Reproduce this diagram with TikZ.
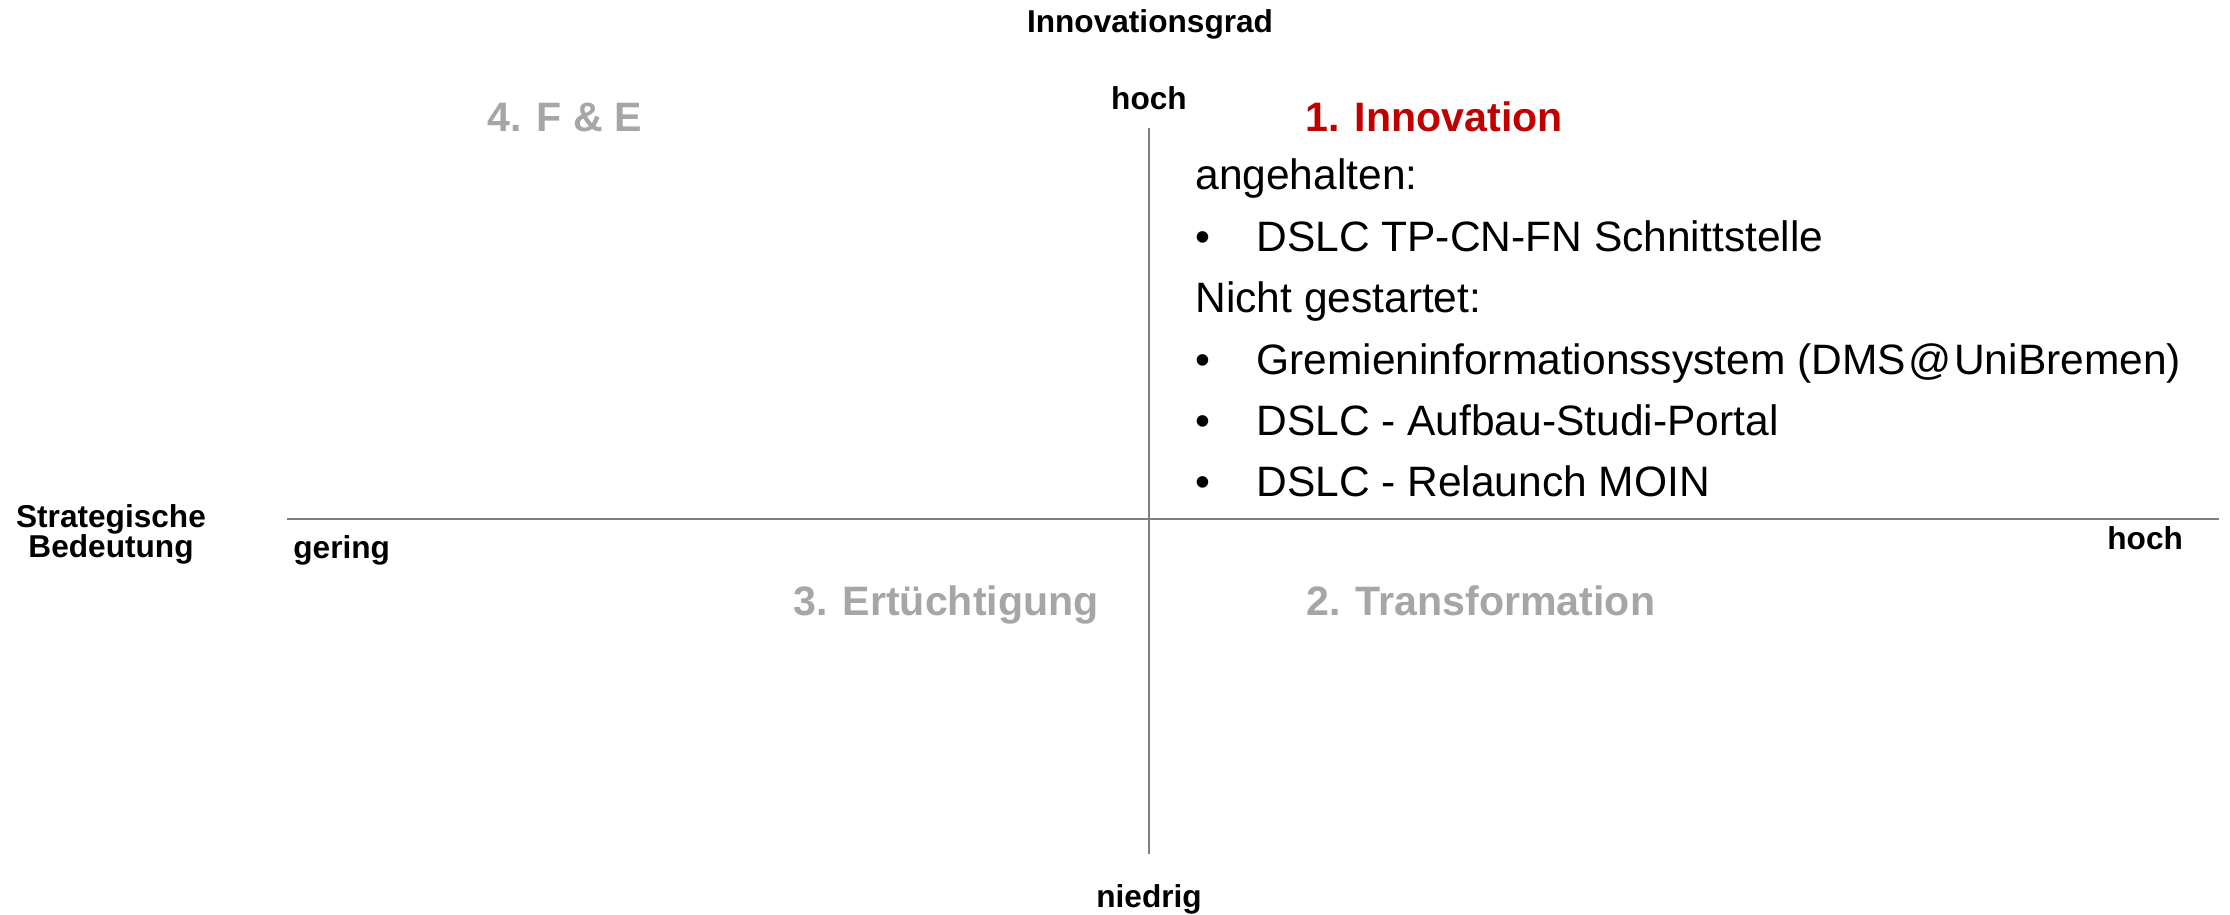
\documentclass[tikz,border=0pt]{standalone}
\usepackage{fontspec}
\setmainfont{Liberation Sans}
\usepackage{tikz}
\usetikzlibrary{positioning}
\definecolor{axisgray}{HTML}{7F7F7F}
\definecolor{quadgray}{HTML}{A6A6A6}
\definecolor{innored}{HTML}{C00000}
\newcommand\itemdot{\makebox[1.22cm][l]{\textbullet}}

\begin{document}
\begin{tikzpicture}[
    x=0.02cm, y=-0.02cm,
    every node/.style={inner sep=0pt},
    axislabel/.style={font=\bfseries\fontsize{18}{18}\selectfont},
    quadrant/.style={font=\bfseries\fontsize{23.4}{28}\selectfont, text=quadgray},
    entry/.style={font=\fontsize{24.2}{28}\selectfont, anchor=base west},
    axis/.style={draw=axisgray, line width=1.1pt}
]
    \useasboundingbox (0,0) rectangle (2230,915);

    % Define axis ends
    \coordinate (top) at (1149,128);
    \coordinate (bottom) at (1149,854);
    \coordinate (left) at (287,519);
    \coordinate (right) at (2219,519);

    % Draw axes
    \draw[axis] (top) -- (bottom);
    \draw[axis] (left) -- (right);

    % Axis labels
    \node[axislabel, anchor=base] (grad) at (1150,33) {Innovationsgrad};
    \node[axislabel, anchor=base] (hochtop) at (1149,110) {hoch};
    \node[axislabel, anchor=base] (niedrig) at (1149,907) {niedrig};
    \node[axislabel, anchor=base west] (gering) at (293,558) {gering};
    \node[axislabel, anchor=base west] (hochright) at (2107,549) {hoch};
    \node[axislabel, align=center, anchor=north, font=\bfseries\fontsize{18}{17}\selectfont]
        (strat) at (111,504) {Strategische\\Bedeutung};

    % Quadrants
    \node[quadrant, anchor=base west, text=innored] (innov) at (1305,132) {1. Innovation};
    \node[quadrant, anchor=base west] (transf) at (1306,615) {2. Transformation};
    \node[quadrant, anchor=base east] (ertue) at (1099,615) {3. Ertüchtigung};
    \node[quadrant, anchor=base west] (fue) at (487,132) {4. F \& E};

    % Project list
    \node[entry] (halt) at (1195,190) {angehalten:};
    \node[entry, below=1.228cm of halt.base west, anchor=base west] (tpcn)
        {\itemdot DSLC TP-CN-FN Schnittstelle};
    \node[entry, below=1.228cm of tpcn.base west, anchor=base west] (nicht)
        {Nicht gestartet:};
    \node[entry, below=1.228cm of nicht.base west, anchor=base west] (gremien)
        {\itemdot Gremieninformationssystem (DMS\hspace{0.06em}@\hspace{0.06em}UniBremen)};
    \node[entry, below=1.228cm of gremien.base west, anchor=base west] (studi)
        {\itemdot DSLC - Aufbau-Studi-Portal};
    \node[entry, below=1.228cm of studi.base west, anchor=base west] (moin)
        {\itemdot DSLC - Relaunch MOIN};
\end{tikzpicture}
\end{document}
